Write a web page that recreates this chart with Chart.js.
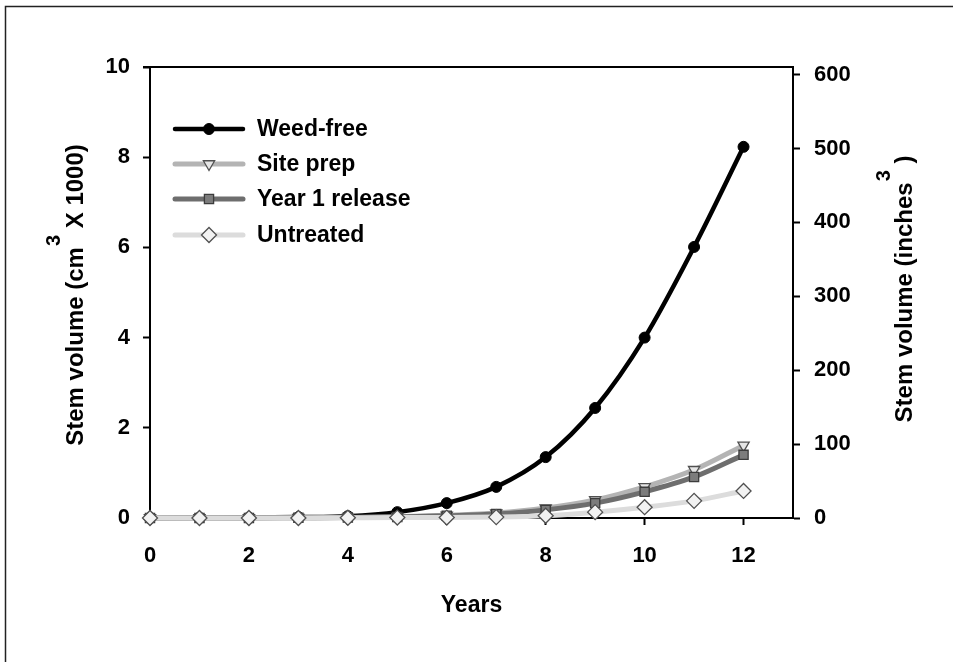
<!DOCTYPE html>
<html>
<head>
<meta charset="utf-8">
<script src="https://cdn.jsdelivr.net/npm/chart.js@4/dist/chart.umd.min.js"></script>
<style>
html,body{margin:0;padding:0;background:#fff;}
#wrap{position:relative;width:953px;height:662px;}
canvas{display:block;}
</style>
</head>
<body>
<div id="wrap"><canvas id="c" width="953" height="662"></canvas></div>
<script>
// ---- data ----
const years = [0,1,2,3,4,5,6,7,8,9,10,11,12];
const weedFree  = [0, 0.005, 0.01, 0.02, 0.04, 0.13, 0.33, 0.69, 1.35, 2.44, 4.00, 6.01, 8.23];
const sitePrep  = [0, 0, 0, 0.005, 0.01, 0.03, 0.06, 0.11, 0.22, 0.40, 0.69, 1.07, 1.61];
const year1Rel  = [0, 0, 0, 0.005, 0.01, 0.02, 0.05, 0.09, 0.18, 0.33, 0.58, 0.91, 1.40];
const untreated = [0, 0, 0, 0, 0.005, 0.01, 0.01, 0.02, 0.05, 0.13, 0.24, 0.38, 0.60];
const seriesNames = ['Weed-free','Site prep','Year 1 release','Untreated'];
const xTicks = [0,2,4,6,8,10,12];
const leftTicks = [0,2,4,6,8,10];
const rightTicks = [0,100,200,300,400,500,600];
const xTitle = 'Years';
const leftTitle = ['Stem volume (cm','3',' X 1000)'];
const rightTitle = ['Stem volume (inches','3',' )'];
const CM3_PER_IN3 = 16.387064;

const FONT = '"Liberation Sans", Arial, sans-serif';

function pts(arr){ return years.map((x,i)=>({x:x,y:arr[i]})); }

const datasets = [
  {label:seriesNames[0], data:pts(weedFree), borderColor:'#000', borderWidth:4.5,
   pointStyle:'circle', pointRadius:5.5, pointBackgroundColor:'#000', pointBorderColor:'#000', pointBorderWidth:1, order:4},
  {label:seriesNames[1], data:pts(sitePrep), borderColor:'#b4b4b4', borderWidth:5,
   pointStyle:'triangle', pointRotation:180, pointRadius:6.5, pointBackgroundColor:'#e6e6e6', pointBorderColor:'#505050', pointBorderWidth:1.3, order:3},
  {label:seriesNames[2], data:pts(year1Rel), borderColor:'#6e6e6e', borderWidth:5,
   pointStyle:'rect', pointRadius:6.5, pointBackgroundColor:'#7c7c7c', pointBorderColor:'#3c3c3c', pointBorderWidth:1.3, order:2},
  {label:seriesNames[3], data:pts(untreated), borderColor:'#dcdcdc', borderWidth:5,
   pointStyle:'rectRot', pointRadius:7.5, pointBackgroundColor:'#f2f2f2', pointBorderColor:'#505050', pointBorderWidth:1.3, order:1}
];
datasets.forEach(d=>{ d.cubicInterpolationMode='monotone'; d.clip=false; d.pointHoverRadius=d.pointRadius; });

const deco = {
  id:'deco',
  beforeDraw(chart){
    const ctx = chart.ctx;
    ctx.save();
    ctx.fillStyle='#fff'; ctx.fillRect(0,0,chart.width,chart.height);
    // outer frame (left and top edges)
    ctx.strokeStyle='#222'; ctx.lineWidth=1.5;
    ctx.beginPath(); ctx.moveTo(5.5,chart.height); ctx.lineTo(5.5,6.5); ctx.lineTo(chart.width,6.5); ctx.stroke();
    ctx.restore();
  },
  afterDraw(chart){
    const ctx = chart.ctx, a = chart.chartArea;
    ctx.save();
    // top border of plot box
    ctx.strokeStyle='#000'; ctx.lineWidth=2;
    ctx.beginPath(); ctx.moveTo(a.left-7, a.top); ctx.lineTo(a.right+1, a.top); ctx.stroke();
    // legend
    const rows=[62,97,132,168];
    chart.data.datasets.forEach((d,i)=>{
      const y=a.top+rows[i];
      ctx.strokeStyle=d.borderColor; ctx.lineWidth=d.borderWidth; ctx.lineCap='round';
      ctx.beginPath(); ctx.moveTo(a.left+25,y); ctx.lineTo(a.left+93,y); ctx.stroke();
      ctx.fillStyle=d.pointBackgroundColor; ctx.strokeStyle=d.pointBorderColor; ctx.lineWidth=d.pointBorderWidth;
      Chart.helpers.drawPoint(ctx,{pointStyle:d.pointStyle,rotation:d.pointRotation||0,radius:d.pointRadius,borderWidth:d.pointBorderWidth},a.left+59,y);
      ctx.fillStyle='#000'; ctx.font='bold 23px '+FONT; ctx.textAlign='left'; ctx.textBaseline='middle';
      ctx.fillText(d.label, a.left+107, y+1);
    });
    // axis titles
    ctx.fillStyle='#000'; ctx.textBaseline='alphabetic';
    ctx.font='bold 23px '+FONT; ctx.textAlign='center';
    ctx.fillText(xTitle,(a.left+a.right)/2,612);
    function vtitle(parts,cx,cy,supOff){
      ctx.save(); ctx.translate(cx,cy); ctx.rotate(-Math.PI/2);
      ctx.textAlign='left';
      const fMain='bold 24px '+FONT, fSup='bold 20px '+FONT;
      ctx.font=fMain; const w0=ctx.measureText(parts[0]).width, w2=ctx.measureText(parts[2]).width;
      ctx.font=fSup; const w1=ctx.measureText(parts[1]).width;
      let x=-(w0+w1+w2+1)/2;
      ctx.font=fMain; ctx.fillText(parts[0],x,8); x+=w0;
      ctx.font=fSup; ctx.fillText(parts[1],x+1,supOff); x+=w1+1;
      ctx.font=fMain; ctx.fillText(parts[2],x,8);
      ctx.restore();
    }
    vtitle(leftTitle,75,295,-15);
    vtitle(rightTitle,904,289,-14);
    ctx.restore();
  }
};

const tickFont = {family:FONT, size:22, weight:'bold'};

new Chart(document.getElementById('c'),{
  type:'line',
  data:{datasets:datasets},
  options:{
    responsive:false, animation:false, devicePixelRatio:1,
    layout:{padding:{top:67,left:0,right:0,bottom:0}},
    plugins:{legend:{display:false}, tooltip:{enabled:false}},
    scales:{
      x:{type:'linear', min:0, max:13, position:'bottom',
         afterFit(s){s.height=144;},
         afterBuildTicks(s){ s.ticks = xTicks.map(v=>({value:v})); },
         ticks:{stepSize:2, includeBounds:false, color:'#000', font:tickFont, padding:18, maxRotation:0},
         grid:{drawOnChartArea:false, drawTicks:true, tickLength:7, tickWidth:2, tickColor:'#000'},
         border:{display:true, color:'#000', width:2}},
      y:{type:'linear', min:0, max:10, position:'left',
         afterFit(s){s.width=150;},
         afterBuildTicks(s){ s.ticks = leftTicks.map(v=>({value:v})); },
         ticks:{stepSize:2, includeBounds:false, color:'#000', font:tickFont, padding:13},
         grid:{drawOnChartArea:false, drawTicks:true, tickLength:7, tickWidth:2, tickColor:'#000'},
         border:{display:true, color:'#000', width:2}},
      y2:{type:'linear', min:0, max:10000/CM3_PER_IN3, position:'right',
         afterFit(s){s.width=160;},
         afterBuildTicks(s){ s.ticks = rightTicks.map(v=>({value:v})); },
         ticks:{stepSize:100, includeBounds:false, color:'#000', font:tickFont, padding:14},
         grid:{drawOnChartArea:false, drawTicks:true, tickLength:7, tickWidth:2, tickColor:'#000'},
         border:{display:true, color:'#000', width:2}}
    }
  },
  plugins:[deco]
});
</script>
</body>
</html>
